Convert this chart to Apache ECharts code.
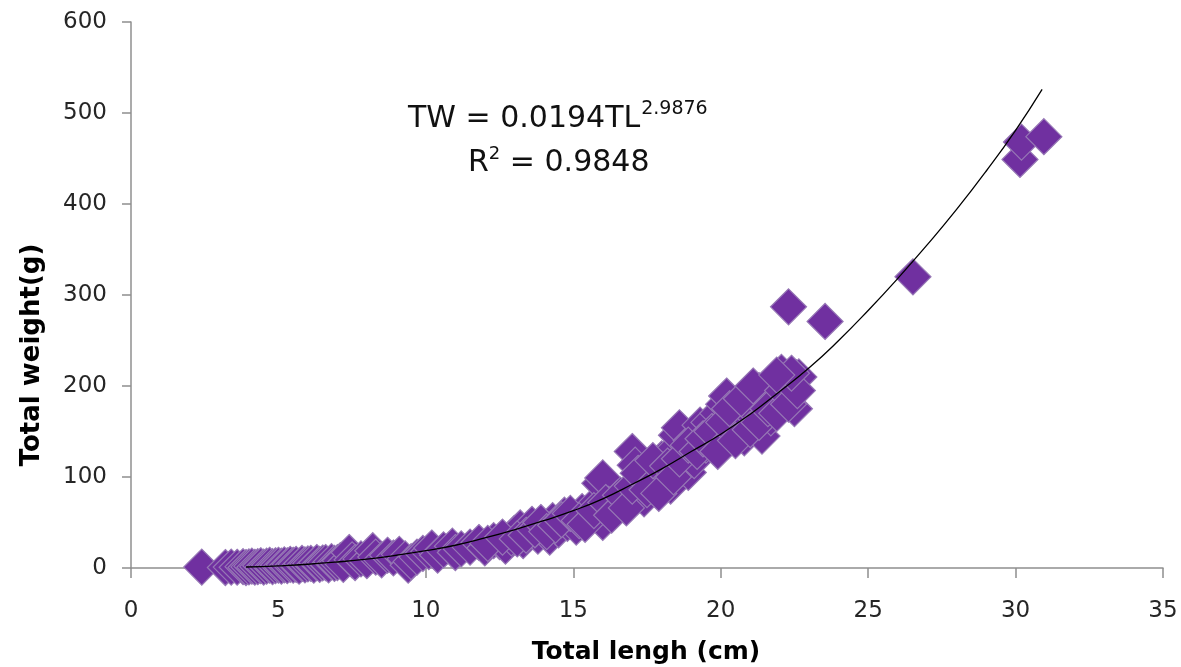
<!DOCTYPE html>
<html>
<head>
<meta charset="utf-8">
<script src="https://cdn.jsdelivr.net/npm/echarts@6/dist/echarts.min.js"></script>
<style>
html,body{margin:0;padding:0;background:#fff;}
#chart{width:1181px;height:667px;}
</style>
</head>
<body>
<div id="chart"></div>
<script>
// Observed fish: [total length (cm), total weight (g)]
var lengthWeight = [
[2.4,1],[3.2,0.5],[3.4,1],[3.6,0.8],[3.8,1.5],[3.9,0.5],[4.0,1.2],[4.1,2],[4.2,0.8],[4.3,1.5],
[4.4,2.5],[4.5,1],[4.6,2],[4.7,3],[4.8,1.5],[4.9,2.5],[5.0,3],[5.1,2],[5.2,3.5],[5.3,2.5],
[5.4,4],[5.5,3],[5.6,4],[5.7,2],[5.8,5],[5.9,3.5],[6.0,4.5],[6.1,5],[6.2,3],[6.3,6],
[6.4,4],[6.5,5.5],[6.6,6],[6.7,3.5],[6.8,7],[6.9,5],[7.0,6],[7.1,8],[7.2,4],[7.4,17],
[7.5,9],[7.6,6],[7.8,10],[8.0,8],[8.2,19],[8.3,12],[8.5,9],[8.7,14],[8.9,11],[9.1,15],
[9.3,10],[9.4,3],[9.5,7],[9.7,12],[9.9,16],[10.1,18],[10.2,22],[10.4,14],[10.6,20],[10.9,24],
[11.0,17],[11.2,21],[11.5,23],[11.8,28],[12.0,22],[12.3,30],[12.5,29],[12.7,24],[12.9,33],[13.0,38],
[13.2,44],[13.3,30],[13.5,40],[13.6,48],[13.8,35],[14.0,45],[14.2,34],[14.3,52],[14.5,42],[14.7,58],
[14.8,49],[15.0,55],[15.1,45],[15.3,62],[15.5,57],[15.6,66],[15.8,60],[15.9,93],[16.0,99],[16.0,50],
[16.2,70],[16.4,64],[16.5,77],[16.7,72],[16.9,85],[17.0,128],[17.1,113],[17.2,95],[17.3,80],[17.4,76],
[17.5,100],[17.6,90],[17.8,108],[17.9,95],[18.0,120],[18.1,102],[18.3,90],[18.4,130],[18.5,146],[18.6,154],
[18.7,110],[18.8,125],[18.9,105],[19.0,140],[19.1,118],[19.3,157],[19.5,135],[19.6,160],[19.8,145],[19.9,170],
[20.0,155],[20.1,180],[20.2,189],[20.2,142],[20.4,165],[20.6,150],[20.8,175],[20.8,143],[20.9,158],[21.0,185],
[21.2,170],[21.3,195],[21.4,145],[21.5,180],[21.6,200],[21.7,165],[21.8,190],[22.0,205],[22.06,215],[22.2,185],
[22.3,287],[22.4,198],[22.5,175],[22.57,209],[22.65,210],[23.54,271],[26.52,320],[30.15,449],[30.2,468],[30.96,474],
[12.1,27],[12.6,34],[13.1,32],[13.4,36],[13.7,42],[13.9,50],[14.1,40],[14.4,47],[14.6,53],[14.9,60],
[15.2,52],[15.4,48],[15.7,63],[16.1,72],[16.3,58],[16.6,80],[16.8,66],[17.0,90],[17.2,104],[17.5,86],
[17.7,118],[17.9,82],[18.2,112],[18.4,100],[18.6,120],[18.9,135],[19.2,128],[19.4,142],[19.7,150],[19.9,128],
[20.1,160],[20.3,175],[20.5,140],[20.7,186],[21.0,152],[21.1,200],[21.3,160],[21.6,175],[21.9,170],[22.1,195],
[22.3,180],[22.6,195],[22.4,214],[21.9,212]
];
// Power trend line: [length, weight]
var trendLine = [
[3.9,1.1],[5,2.4],[6,4.1],[7,6.6],[8,9.8],[9,14],[10,19],[11,25],[12,33],[13,42],
[14,52],[15,63],[16,76],[17,92],[18,109],[19,128],[20,147],[21,169],[22,194],[23,220],
[24,250],[25,283],[26,318],[27,355],[28,394],[29,436],[30,481],[30.9,526]
];
var xTicks = {min:0, max:35, step:5};
var yTicks = {min:0, max:600, step:100};
var equationText = 'TW = 0.0194TL';
var equationExp = '2.9876';
var r2Base = 'R';
var r2Exp = '2';
var r2Value = ' = 0.9848';
var xTitle = 'Total lengh (cm)';
var yTitle = 'Total weight(g)';

var chart = echarts.init(document.getElementById('chart'), null, {renderer:'canvas'});
var axisColor = '#8f8f8f';
var labelFont = {fontFamily:'DejaVu Sans', fontSize:23, color:'#262626'};
chart.setOption({
  animation:false,
  backgroundColor:'#ffffff',
  grid:{left:131, right:18, top:22, bottom:99, containLabel:false},
  xAxis:{
    type:'value', min:xTicks.min, max:xTicks.max, interval:xTicks.step,
    axisLine:{onZero:false, lineStyle:{color:axisColor, width:1.5}},
    axisTick:{inside:false, length:10, lineStyle:{color:axisColor, width:1.5}},
    splitLine:{show:false},
    axisLabel:Object.assign({margin:32}, labelFont)
  },
  yAxis:{
    type:'value', min:yTicks.min, max:yTicks.max, interval:yTicks.step,
    axisLine:{show:true, lineStyle:{color:axisColor, width:1.5}},
    axisTick:{show:true, inside:false, length:9, lineStyle:{color:axisColor, width:1.5}},
    splitLine:{show:false},
    axisLabel:Object.assign({margin:24}, labelFont)
  },
  graphic:[
    {type:'text', x:646, y:652, style:{text:xTitle, fontFamily:'DejaVu Sans', fontWeight:'bold', fontSize:25, fill:'#000', textAlign:'center', textVerticalAlign:'middle'}},
    {type:'text', x:32, y:355, rotation:Math.PI/2, style:{text:yTitle, fontFamily:'DejaVu Sans', fontWeight:'bold', fontSize:26, fill:'#000', textAlign:'center', textVerticalAlign:'middle'}},
    {type:'text', x:408, y:116, style:{
      text:'{b|'+equationText+'}{s|'+equationExp+'}',
      textAlign:'left', textVerticalAlign:'middle',
      rich:{
        b:{fontFamily:'DejaVu Sans', fontSize:30, fill:'#111', lineHeight:36, verticalAlign:'bottom'},
        s:{fontFamily:'DejaVu Sans', fontSize:19, fill:'#111', lineHeight:36, verticalAlign:'top', padding:[2,0,0,1]}
      }
    }},
    {type:'text', x:468, y:160, style:{
      text:'{b|'+r2Base+'}{s|'+r2Exp+'}{b|'+r2Value+'}',
      textAlign:'left', textVerticalAlign:'middle',
      rich:{
        b:{fontFamily:'DejaVu Sans', fontSize:30, fill:'#111', lineHeight:36, verticalAlign:'bottom'},
        s:{fontFamily:'DejaVu Sans', fontSize:18, fill:'#111', lineHeight:36, verticalAlign:'top', padding:[3,0,0,0]}
      }
    }}
  ],
  series:[
    {
      type:'scatter', data:lengthWeight, symbol:'diamond', symbolSize:36,
      itemStyle:{color:'#7030A0', borderColor:'#9677b5', borderWidth:1.2, opacity:1},
      z:2
    },
    {
      type:'line', data:trendLine, smooth:true, showSymbol:false, symbol:'none',
      lineStyle:{color:'#000', width:1.3}, z:3
    }
  ]
});
</script>
</body>
</html>
